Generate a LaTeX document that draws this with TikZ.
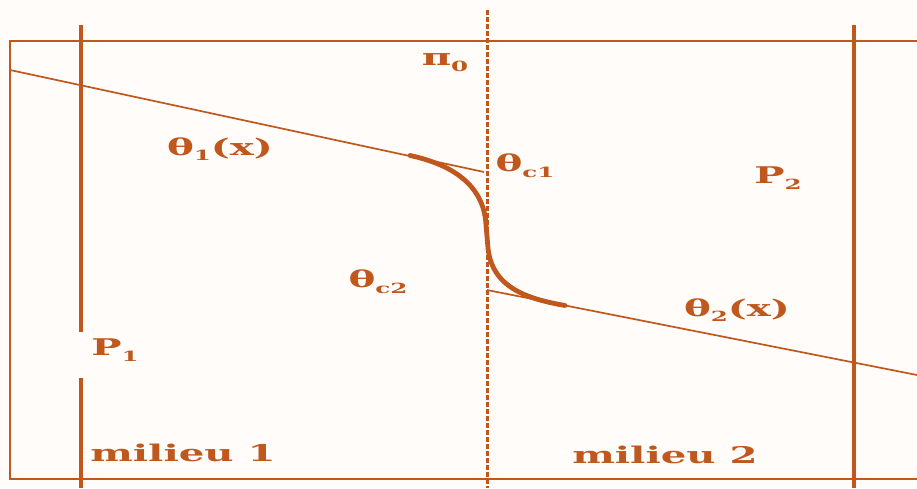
\documentclass[tikz,border=0pt]{standalone}
\usepackage{fontspec}
\newfontfamily\figfont[FakeStretch=1.75]{DejaVu Serif}
\definecolor{rust}{RGB}{192,88,30}
\definecolor{paper}{RGB}{255,252,250}
\newcommand\lowidx[1]{\raisebox{-.25em}{\fontsize{14}{14}\selectfont #1}}

\begin{document}
\begin{tikzpicture}[x=1pt, y=-1pt,
    lbl/.style={text=rust, inner sep=0pt, font=\figfont\bfseries\fontsize{23}{26}\selectfont},
    frame/.style={draw=rust, line width=1.8pt},
    wall/.style={draw=rust, line width=3.8pt},
    interface/.style={draw=rust, line width=3pt, dash pattern=on 4.5pt off 2.5pt},
    profile/.style={draw=rust, line width=1.7pt},
    layer/.style={draw=rust, line width=4.8pt, line cap=round}
]
\fill[paper] (0,0) rectangle (917,488);
\useasboundingbox (0,0) rectangle (917,488);

  % box and walls
\draw[frame] (917,41) -- (10,41) -- (10,479) -- (917,479);
\draw[wall] (81,25) -- (81,332);
\draw[wall] (81,378) -- (81,488);
\draw[wall] (854,25) -- (854,488);
\draw[interface] (487,10) -- (487,488);

  % temperature profiles
\coordinate (t1a) at (10,70);
\coordinate (t1b) at (484,172);
\coordinate (t2a) at (487,290);
\coordinate (t2b) at (917,375);
\draw[profile] (t1a) -- (t1b);
\draw[profile] (t2a) -- (t2b);
\coordinate (cA) at (410,155.5);
\coordinate (cB) at (565,305.5);
\draw[layer] (cA) .. controls (452,164.5) and (484,185) .. (486,225)
  -- (488,248) .. controls (492,288) and (528,299) .. (cB);

  % labels
\node[lbl] (pi0) at (445,63) {π\lowidx{0}};
\node[lbl] (th1) at (220,149) {θ\lowidx{1}(x)};
\node[lbl] (thc1) at (525,166) {θ\lowidx{c1}};
\node[lbl] (p2) at (778,178) {P\lowidx{2}};
\node[lbl] (thc2) at (378,282) {θ\lowidx{c2}};
\node[lbl] (p1) at (115,350) {P\lowidx{1}};
\node[lbl] (th2) at (737,310) {θ\lowidx{2}(x)};
\node[lbl] (mil1) at (183,453) {milieu 1};
\node[lbl] (mil2) at (665,455) {milieu 2};
\end{tikzpicture}
\end{document}
